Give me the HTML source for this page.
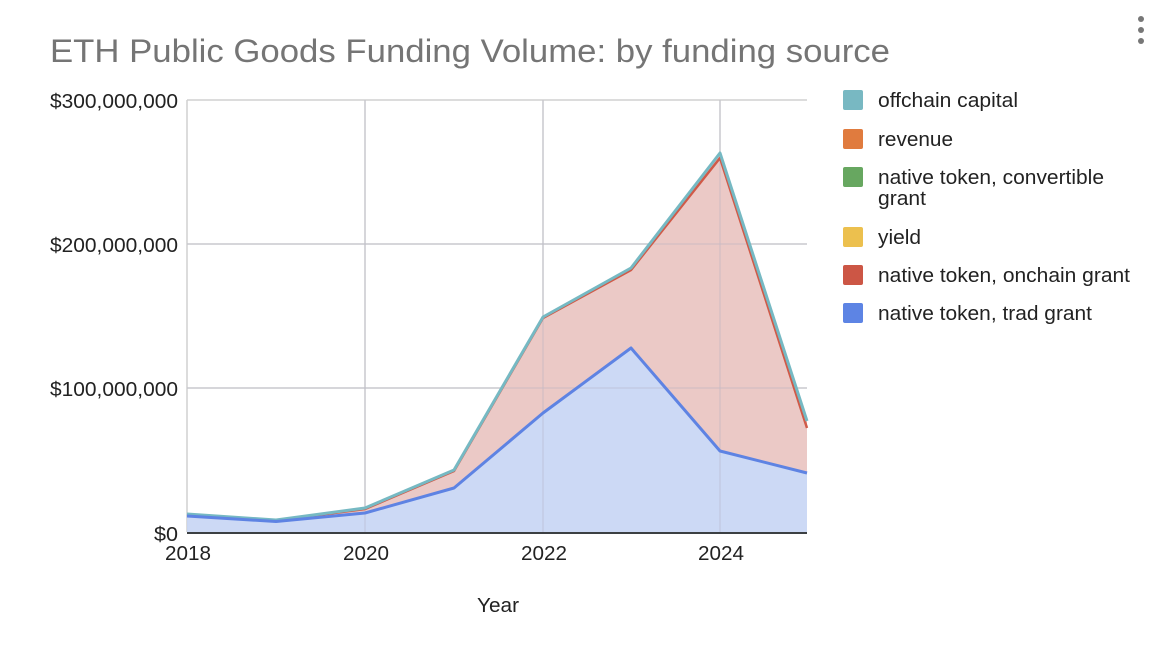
<!DOCTYPE html>
<html><head><meta charset="utf-8"><style>
html,body{margin:0;padding:0;background:#fff;}
svg{display:block;font-family:"Liberation Sans",Arial,sans-serif;}
</style></head><body>
<svg width="1172" height="648" viewBox="0 0 1172 648" xmlns="http://www.w3.org/2000/svg">
<rect width="1172" height="648" fill="#fff"/>
<text x="50" y="62" font-size="32" fill="#757575" textLength="840" lengthAdjust="spacingAndGlyphs">ETH Public Goods Funding Volume: by funding source</text>
<circle cx="1141" cy="19" r="3" fill="#777"/><circle cx="1141" cy="30" r="3" fill="#777"/><circle cx="1141" cy="41" r="3" fill="#777"/>
<g stroke="#d0d0d0" stroke-width="1.5">
<line x1="187" y1="100" x2="807" y2="100"/>
<line x1="187" y1="244" x2="807" y2="244"/>
<line x1="187" y1="388" x2="807" y2="388"/>
<line x1="187" y1="100" x2="187" y2="532"/>
<line x1="365" y1="100" x2="365" y2="532"/>
<line x1="543" y1="100" x2="543" y2="532"/>
<line x1="720" y1="100" x2="720" y2="532"/>
</g>
<polygon fill="#e9c3c0" fill-opacity="0.9" points="187,514 276,520 365,508 454,470 543,317 631,268 720,153 807,421 807,473 720,451 631,348 543,413 454,488 365,513 276,521.5 187,516"/>
<polygon fill="#c6d5f4" fill-opacity="0.9" points="187,516 276,521.5 365,513 454,488 543,413 631,348 720,451 807,473 807,532 187,532"/>
<g stroke="#b8b8c8" stroke-opacity="0.5" stroke-width="1">
<line x1="187" y1="388" x2="807" y2="388"/>
<line x1="187" y1="244" x2="807" y2="244"/>
<line x1="365" y1="100" x2="365" y2="532"/>
<line x1="543" y1="100" x2="543" y2="532"/>
<line x1="720" y1="100" x2="720" y2="532"/>
</g>
<polyline fill="none" stroke="#d05a48" stroke-width="2.5" points="187,515 276,520.5 365,509 454,471 543,318 631,270 720,158 807,428"/>
<polyline fill="none" stroke="#76b9c3" stroke-width="3" stroke-linejoin="round" points="187,514 276,520 365,508 454,470 543,317 631,268 720,153 807,421"/>
<polyline fill="none" stroke="#5e83e3" stroke-width="3" stroke-linejoin="round" points="187,516 276,521.5 365,513 454,488 543,413 631,348 720,451 807,473"/>
<line x1="187" y1="533" x2="807" y2="533" stroke="#3c4043" stroke-width="2"/>
<g font-size="20" fill="#222" lengthAdjust="spacingAndGlyphs">
<text x="50" y="108" textLength="128" lengthAdjust="spacingAndGlyphs">$300,000,000</text>
<text x="50" y="252" textLength="128" lengthAdjust="spacingAndGlyphs">$200,000,000</text>
<text x="50" y="396" textLength="128" lengthAdjust="spacingAndGlyphs">$100,000,000</text>
<text x="154" y="541" textLength="24" lengthAdjust="spacingAndGlyphs">$0</text>
<text x="165" y="560" textLength="46" lengthAdjust="spacingAndGlyphs">2018</text>
<text x="343" y="560" textLength="46" lengthAdjust="spacingAndGlyphs">2020</text>
<text x="521" y="560" textLength="46" lengthAdjust="spacingAndGlyphs">2022</text>
<text x="698" y="560" textLength="46" lengthAdjust="spacingAndGlyphs">2024</text>
<text x="477" y="612" textLength="42" lengthAdjust="spacingAndGlyphs">Year</text>
</g>
<g font-size="20" fill="#222">
<rect x="843" y="90" width="20" height="20" rx="2" fill="#78b8c2"/><text x="878" y="107" textLength="140" lengthAdjust="spacingAndGlyphs">offchain capital</text>
<rect x="843" y="129" width="20" height="20" rx="2" fill="#e07b3e"/><text x="878" y="146" textLength="75" lengthAdjust="spacingAndGlyphs">revenue</text>
<rect x="843" y="167" width="20" height="20" rx="2" fill="#67a760"/><text x="878" y="184" textLength="226" lengthAdjust="spacingAndGlyphs">native token, convertible</text><text x="878" y="205" textLength="48" lengthAdjust="spacingAndGlyphs">grant</text>
<rect x="843" y="227" width="20" height="20" rx="2" fill="#ecc04e"/><text x="878" y="244" textLength="43" lengthAdjust="spacingAndGlyphs">yield</text>
<rect x="843" y="265" width="20" height="20" rx="2" fill="#cc5645"/><text x="878" y="282" textLength="252" lengthAdjust="spacingAndGlyphs">native token, onchain grant</text>
<rect x="843" y="303" width="20" height="20" rx="2" fill="#5d84e4"/><text x="878" y="320" textLength="214" lengthAdjust="spacingAndGlyphs">native token, trad grant</text>
</g>
</svg>
</body></html>
